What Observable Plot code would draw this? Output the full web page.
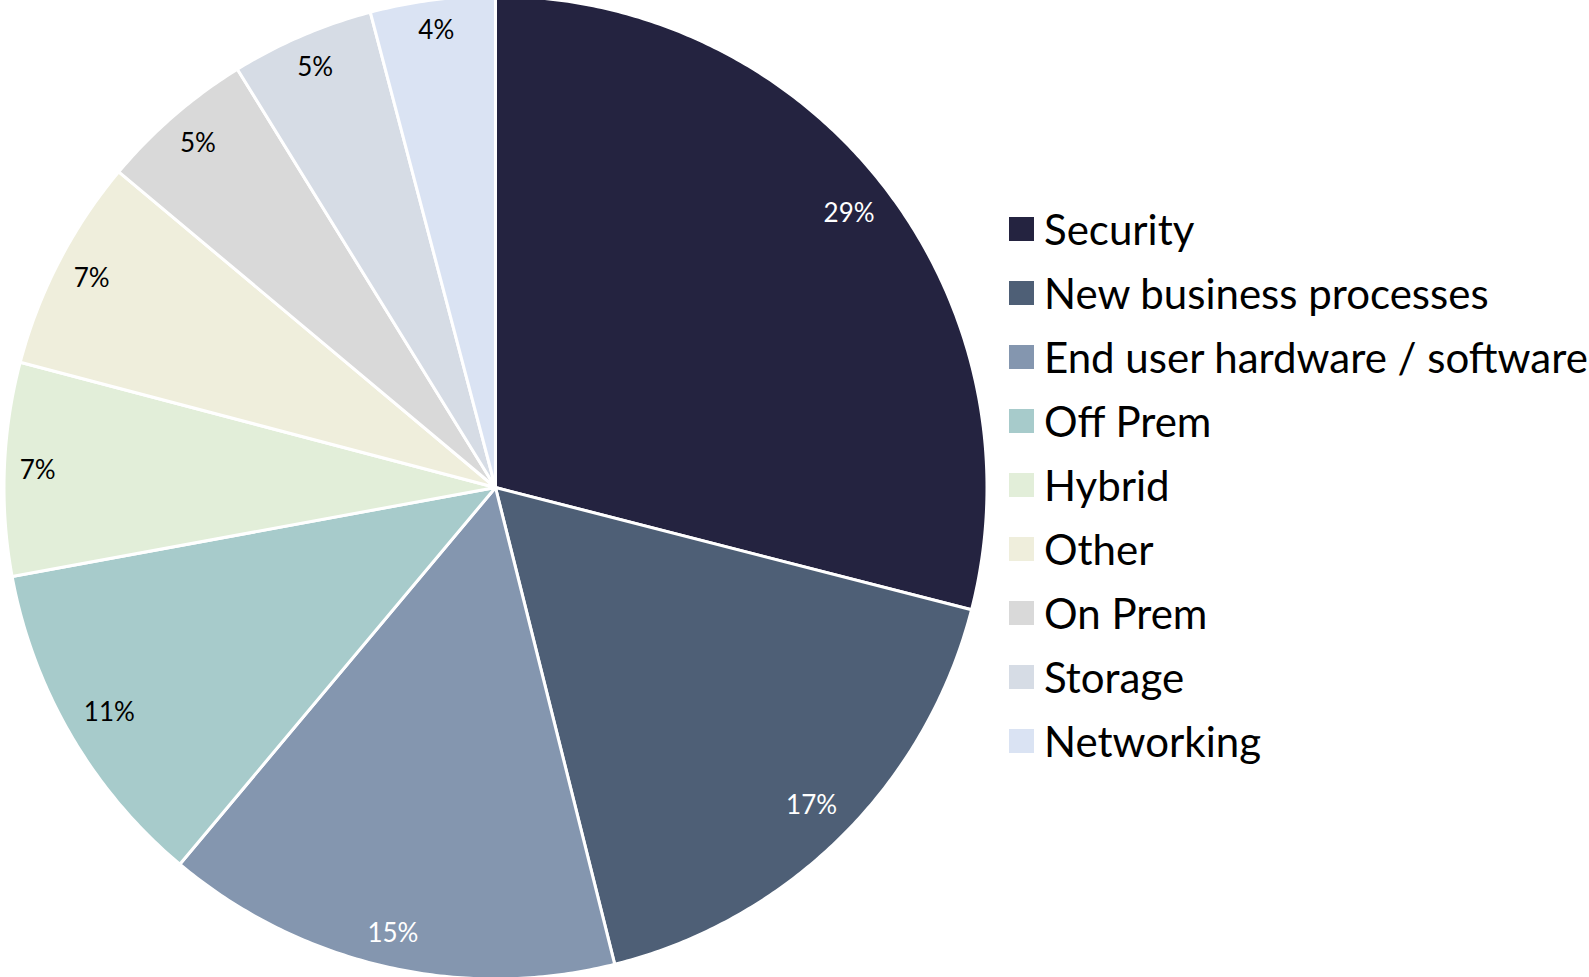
<!DOCTYPE html>
<html><head><meta charset="utf-8">
<script src="https://cdn.jsdelivr.net/npm/d3@7"></script>
<script src="https://cdn.jsdelivr.net/npm/@observablehq/plot@0.6"></script>
<style>
body{margin:0;background:#fff;}
#wrap{position:relative;width:1589px;height:977px;overflow:hidden;}
#chart{position:absolute;left:0;top:0;}
#legend{position:absolute;left:1009px;top:197px;}
.lg-swatches{font-family:Lato,sans-serif;font-size:42px;color:#000;margin:0;}
.lg-swatches-columns .lg-swatch{height:64px;padding-bottom:0;}
.lg-swatch > svg{margin-right:10px;}
.lg-swatches-columns .lg-swatch-label{overflow:visible;text-overflow:clip;}
</style>
</head><body>
<div id="wrap"><div id="chart"></div><div id="legend"></div></div>
<script>
const categories = ["Security","New business processes","End user hardware / software","Off Prem","Hybrid","Other","On Prem","Storage","Networking"];
const shares = [29.0, 17.1, 15.0, 11.0, 7.0, 7.0, 5.1, 4.7, 4.1];
const labels = ["29%","17%","15%","11%","7%","7%","5%","5%","4%"];
const colors = ["#242340","#4E5F76","#8496AF","#A7CBCB","#E2EED9","#EFEEDC","#D9D9D9","#D6DCE5","#DAE3F3"];

// layout (pixels)
const W = 1000, H = 977, CX = 495, CY = 487, R = 491.5, FS = 26, PAD = 13;

const rows = categories.map((c,i)=>({category:c, value:shares[i], label:labels[i], idx:i}));
const arcs = d3.pie().sort(null).value(d=>d.value)(rows);
const pts = [];
arcs.forEach(a=>{
  pts.push({category:a.data.category, x:0, y:0});
  const n = Math.max(2, Math.ceil((a.endAngle-a.startAngle)/(Math.PI/360)));
  for (let k=0;k<=n;k++){
    const t = a.startAngle+(a.endAngle-a.startAngle)*k/n;
    pts.push({category:a.data.category, x:Math.sin(t), y:Math.cos(t)});
  }
});
// "inside end" label placement: text box kept inside the rim
const labelPts = arcs.map(a=>{
  const m=(a.startAngle+a.endAngle)/2;
  const s=Math.sin(m), c=Math.cos(m);
  const hw = a.data.label.length*0.667*FS/2, hh = 13;
  const ext = Math.abs(s)*hw + Math.abs(c)*hh;
  const d = (R - 2.5 - PAD - ext)/R;
  return {...a.data, x:d*s, y:d*c};
});

const chart = Plot.plot({
  width:W, height:H, marginLeft:0, marginRight:0, marginTop:0, marginBottom:0,
  x:{domain:[-CX/R, (W-CX)/R], axis:null},
  y:{domain:[-(H-CY)/R, CY/R], axis:null},
  color:{domain:categories, range:colors},
  style:{background:"transparent", fontFamily:"Lato, sans-serif"},
  marks:[
    Plot.line(pts,{x:"x",y:"y",z:"category",fill:"category",stroke:"white",strokeWidth:3,curve:"linear-closed",strokeLinejoin:"round"}),
    Plot.text(labelPts,{filter:d=>d.idx<3,x:"x",y:"y",text:"label",fill:"white",fontSize:FS,fontFamily:"Lato, sans-serif"}),
    Plot.text(labelPts,{filter:d=>d.idx>=3,x:"x",y:"y",text:"label",fill:"black",fontSize:FS,fontFamily:"Lato, sans-serif"})
  ]
});
document.getElementById("chart").appendChild(chart);
const legend = chart.legend("color",{columns:1, swatchWidth:25, swatchHeight:24, className:"lg", style:{fontFamily:"Lato, sans-serif", fontSize:"42px"}});
document.getElementById("legend").appendChild(legend);
</script>
</body></html>
